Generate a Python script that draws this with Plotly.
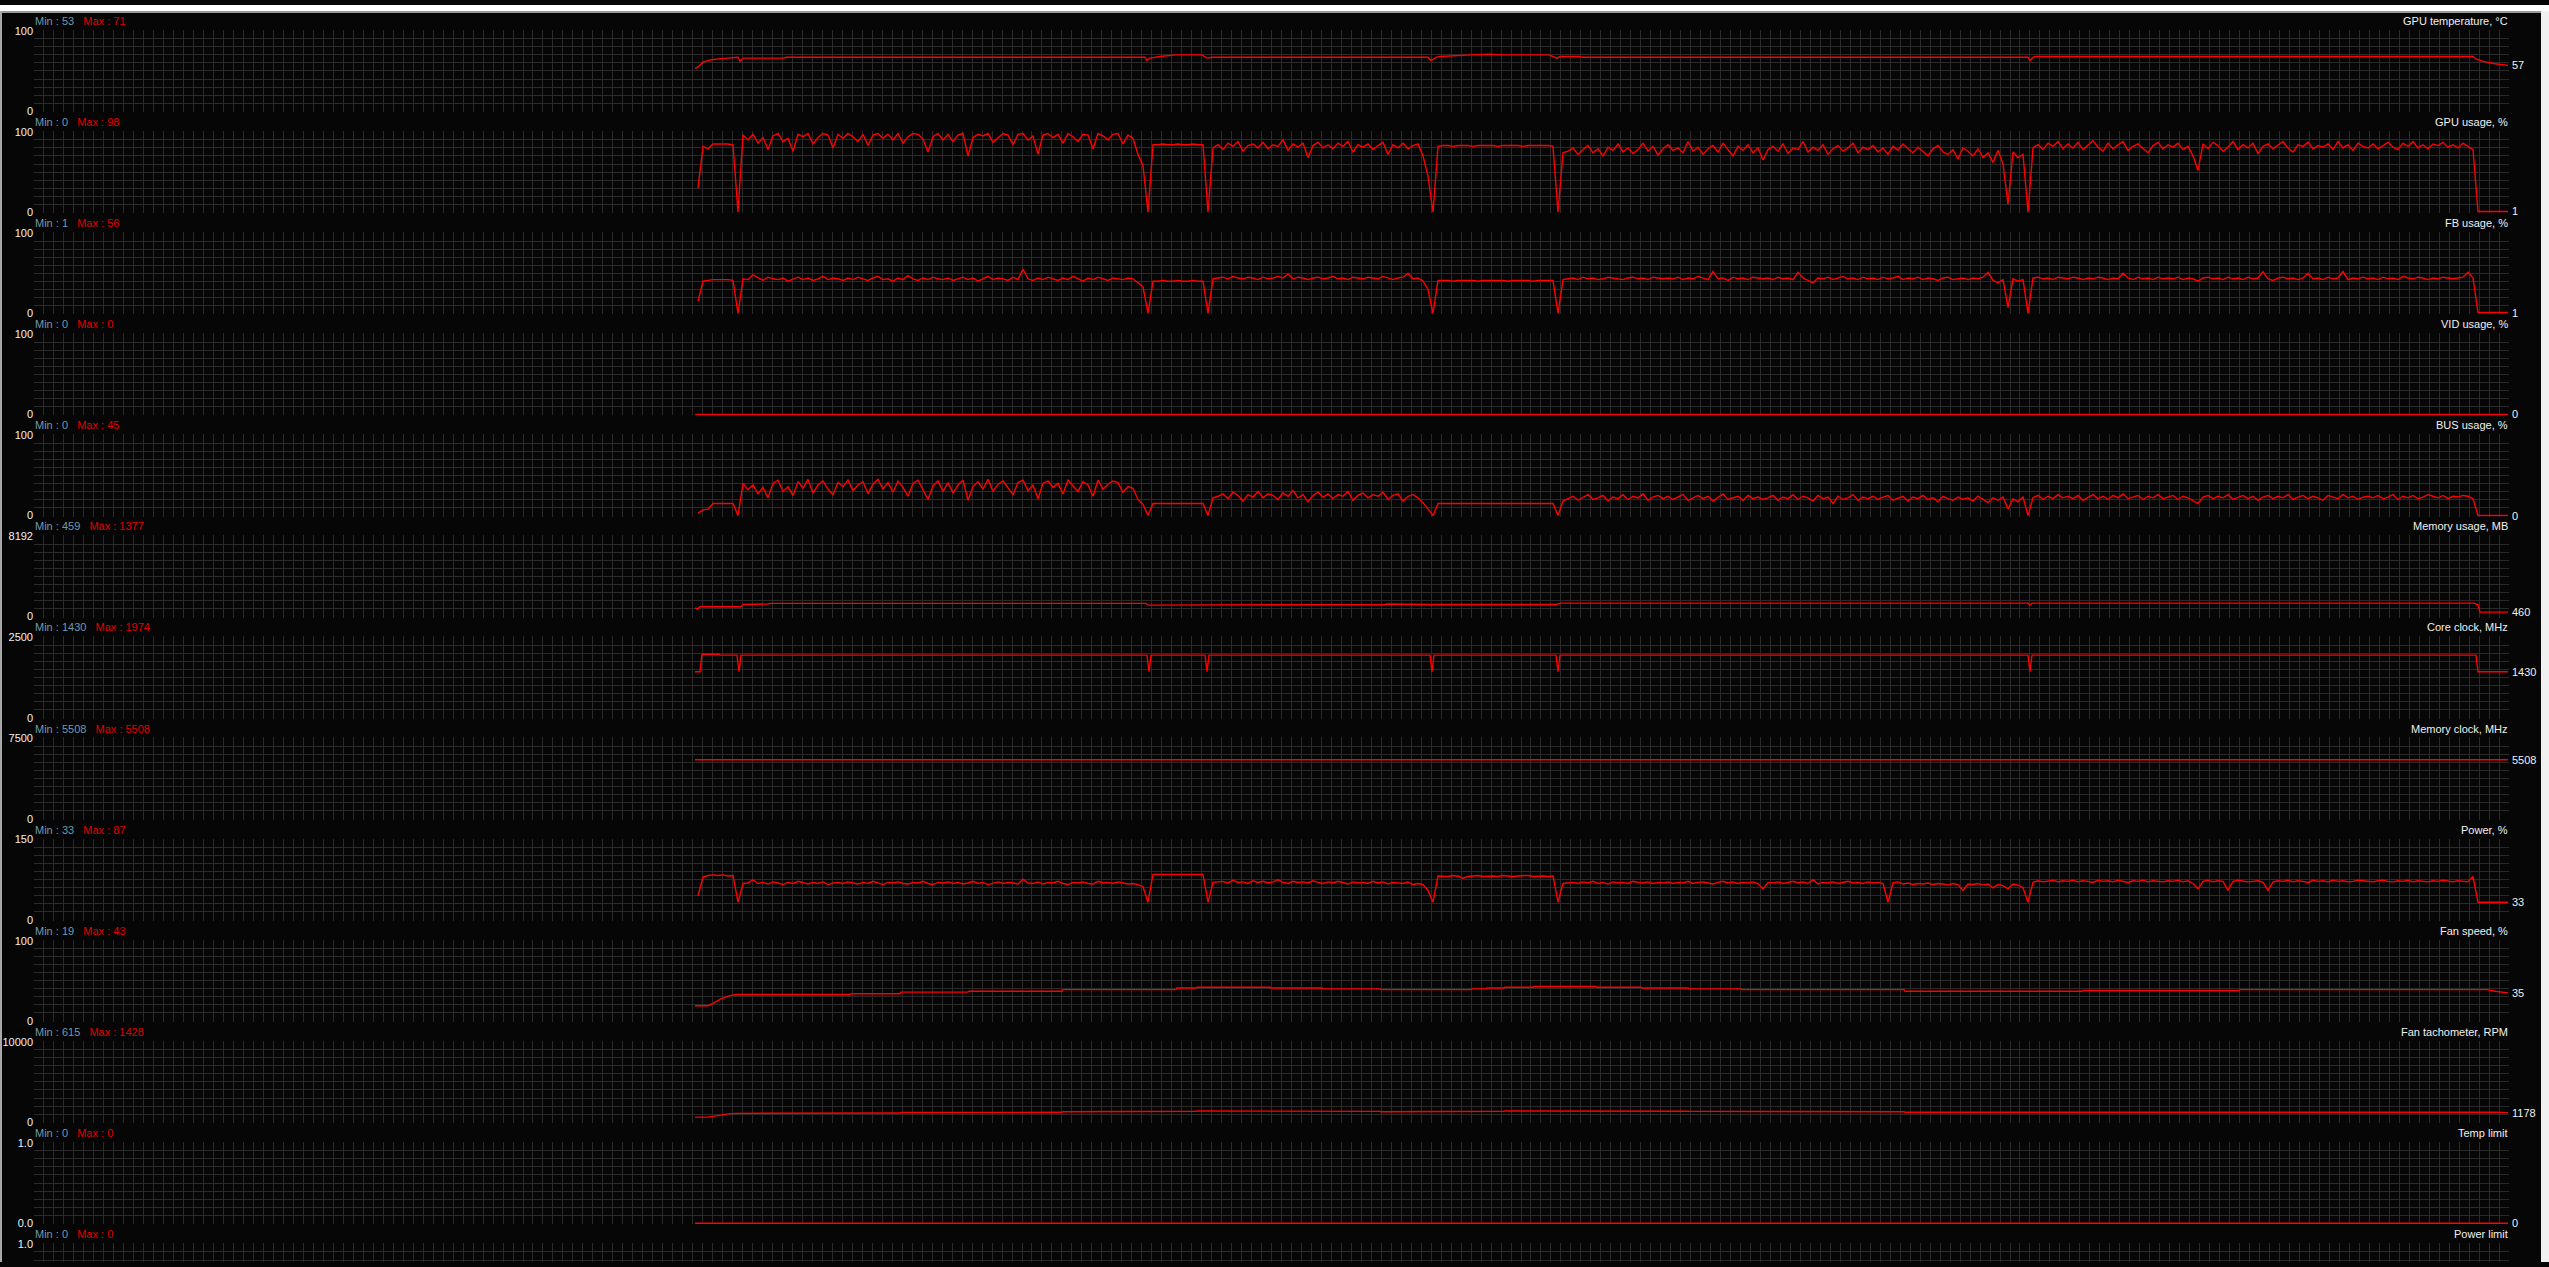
import plotly.graph_objects as go

# ---------------- data ----------------
titles = ["GPU temperature, °C", "GPU usage, %", "FB usage, %", "VID usage, %", "BUS usage, %",
          "Memory usage, MB", "Core clock, MHz", "Memory clock, MHz", "Power, %", "Fan speed, %",
          "Fan tachometer, RPM", "Temp limit", "Power limit"]
min_labels = ["53", "0", "1", "0", "0", "459", "1430", "5508", "33", "19", "615", "0", "0"]
max_labels = ["71", "98", "56", "0", "45", "1377", "1974", "5508", "87", "43", "1428", "0", "0"]
y_max = [100, 100, 100, 100, 100, 8192, 2500, 7500, 150, 100, 10000, 1.0, 1.0]
y_top_text = ["100", "100", "100", "100", "100", "8192", "2500", "7500", "150", "100", "10000", "1.0", "1.0"]
y_bot_text = ["0", "0", "0", "0", "0", "0", "0", "0", "0", "0", "0", "0.0", "0.0"]

# sample times (s) of the densely logged series
t_noisy = list(range(664, 2475, 5))

gpu_usage = [
    30, 82, 79, 85, 85, 85, 85, 84, 0, 96,
    90, 97, 86, 93, 78, 95, 98, 88, 92, 76, 97, 94, 98, 85, 93, 98, 96, 80, 97, 92,
    98, 94, 88, 97, 83, 96, 98, 92, 97, 90, 98, 86, 94, 98, 97, 91, 75, 94, 98, 90,
    97, 88, 96, 98, 70, 93, 97, 95, 98, 87, 92, 98, 96, 84, 97, 98, 90, 95, 72, 96,
    98, 93, 97, 86, 98, 94, 88, 97, 96, 79, 98, 95, 90, 97, 98, 85, 96, 92,
    72, 58, 0, 84,
    84, 85, 84, 84, 85, 84, 84, 85, 84, 84,
    0, 80,
    84, 78, 86, 82, 88, 76, 83, 85, 80, 87, 79, 84, 82, 90, 77, 85, 81, 86, 68, 83,
    87, 80, 84, 79, 86, 82, 88, 75, 84, 81, 85, 78, 83, 87, 72, 84, 80, 86, 79, 83, 85,
    70, 45, 0, 82,
    83, 83, 82, 83, 83, 83, 82, 83, 83, 83, 83, 82, 83, 83, 83, 83, 82, 83, 83, 83, 83, 83, 82,
    0, 74,
    76, 80, 72, 78, 83, 74, 79, 70, 81, 77, 85, 75, 80, 73, 78, 86, 76, 82, 71, 79,
    84, 77, 80, 74, 88, 76, 81, 72, 79, 83, 75, 86, 78, 70, 82, 77, 84, 74, 80, 65,
    78, 82, 76, 85, 73, 80, 78, 88, 75, 81, 77, 84, 72, 79, 83, 76, 80, 86, 74, 81,
    78, 83, 75, 80, 72, 82, 77, 85, 79, 74, 81, 76, 70, 79, 83, 75, 72, 78, 66, 80,
    76, 70, 79, 68, 74, 62, 77, 60, 10, 75, 68, 72, 0, 80, 84, 78, 86, 82, 88, 79,
    85, 80, 87, 78, 83, 89, 81, 76, 86, 79, 84, 88, 77, 82, 85, 80, 74, 83, 87, 79,
    84, 81, 86, 78, 82, 70, 52, 85, 79, 87, 83, 76, 81, 88, 78, 84, 80, 86, 73, 82,
    85, 79, 83, 88, 80, 75, 84, 82, 87, 79, 83, 81, 85, 78, 88, 80, 84, 77, 86, 82,
    80, 85, 79, 83, 87, 81, 78, 86, 82, 88, 80, 84, 79, 85, 83, 87, 81, 84, 80, 86,
    82, 78,
    1, 1, 1, 1, 1, 1, 1,
]

fb_usage = [
    15, 40, 41, 42, 42, 42, 42, 41, 0, 43,
    42, 48, 44, 41, 45, 43, 42, 44, 40, 43, 45, 42, 44, 41, 43, 46, 42, 44, 43, 41,
    44, 42, 45, 43, 41, 44, 46, 42, 43, 40, 44, 42, 47, 43, 41, 44, 42, 45, 43, 42,
    44, 41, 43, 45, 42, 44, 40, 43, 46, 42, 44, 43, 41, 45, 42, 55, 43, 41, 44, 42,
    45, 43, 41, 44, 42, 46, 43, 40, 44, 42, 45, 43, 41, 44, 43, 42, 44, 43,
    38, 33, 0, 40,
    40, 41, 40, 40, 41, 40, 40, 41, 40, 40,
    0, 43,
    44, 45, 43, 46, 44, 43, 45, 44, 42, 45, 43, 44, 46, 44, 49, 43, 45, 44, 42, 44,
    45, 43, 44, 46, 43, 44, 42, 45, 44, 43, 45, 44, 43, 46, 44, 42, 44, 45, 50, 43, 44,
    40, 30, 0, 41,
    41, 41, 40, 41, 41, 41, 41, 40, 41, 41, 41, 41, 41, 40, 41, 41, 41, 41, 40, 41, 41, 41, 41,
    0, 42,
    43, 44, 42, 45, 43, 44, 42, 43, 45, 44, 43, 42, 44, 45, 43, 44, 42, 45, 44, 43,
    44, 43, 45, 42, 44, 43, 46, 44, 42, 52, 43, 44, 41, 45, 43, 44, 42, 45, 44, 43,
    44, 42, 45, 43, 44, 42, 51, 44, 41, 38, 44, 43, 45, 42, 44, 46, 43, 44, 42, 45,
    43, 44, 42, 45, 43, 44, 46, 42, 44, 43, 45, 42, 44, 43, 41, 44, 45, 42, 43, 44,
    42, 44, 43, 45, 51, 41, 38, 42, 7, 43, 40, 42, 0, 44, 45, 43, 44, 42, 45, 44,
    43, 45, 44, 42, 44, 43, 45, 44, 42, 44, 43, 50, 44, 42, 45, 43, 44, 42, 45, 43,
    44, 43, 45, 42, 44, 43, 40, 44, 45, 43, 44, 42, 45, 43, 44, 42, 45, 43, 44, 52,
    43, 41, 44, 45, 43, 44, 42, 44, 50, 43, 44, 42, 45, 43, 44, 52, 42, 44, 43, 45,
    43, 44, 42, 45, 43, 44, 42, 46, 44, 43, 45, 44, 42, 44, 43, 45, 44, 43, 44, 45,
    51, 44,
    1, 1, 1, 1, 1, 1, 1,
]

bus_usage = [
    3, 7, 8, 15, 15, 15, 15, 15, 0, 40,
    32, 38, 27, 35, 22, 40, 44, 30, 36, 25, 42, 34, 45, 28, 38, 43, 33, 26, 41, 36,
    44, 31, 38, 42, 27, 39, 45, 33, 41, 29, 43, 35, 24, 40, 44, 32, 20, 37, 43, 30,
    41, 28, 38, 44, 19, 36, 42, 33, 45, 30, 39, 43, 35, 26, 41, 44, 31, 38, 21, 40,
    43, 35, 40, 27, 44, 37, 30, 42, 38, 24, 44, 33, 39, 43, 41, 29, 36, 34,
    20, 14, 0, 15,
    15, 15, 15, 15, 15, 15, 15, 15, 15, 15,
    0, 22,
    24, 27, 21, 29, 25, 18, 26, 23, 30, 22, 27, 25, 20, 28, 24, 31, 22, 26, 17, 25,
    29, 23, 27, 21, 26, 24, 30, 19, 25, 28, 22, 26, 24, 29, 20, 25, 27, 18, 24, 26, 22,
    16, 8, 0, 15,
    15, 15, 15, 15, 15, 15, 15, 15, 15, 15, 15, 15, 15, 15, 15, 15, 15, 15, 15, 15, 15, 15, 15,
    0, 18,
    21, 24, 19, 23, 26, 20, 22, 25, 18, 23, 21, 26, 20, 24, 22, 27, 19, 23, 25, 21,
    24, 20, 23, 26, 19, 22, 25, 21, 24, 18, 23, 27, 20, 22, 24, 19, 25, 21, 23, 20,
    22, 25, 19, 23, 21, 26, 20, 24, 22, 18, 25, 21, 23, 15, 24, 20, 22, 26, 19, 23,
    21, 24, 20, 23, 25, 19, 22, 24, 18, 23, 21, 25, 20, 22, 17, 24, 21, 19, 23, 20,
    22, 18, 24, 20, 16, 22, 19, 23, 8, 21, 17, 23, 0, 22, 25, 20, 24, 21, 26, 22,
    24, 21, 25, 19, 23, 26, 21, 24, 20, 25, 22, 27, 21, 23, 25, 20, 24, 22, 26, 21,
    23, 25, 20, 24, 22, 19, 15, 23, 25, 21, 24, 22, 26, 20, 23, 25, 21, 24, 19, 23,
    25, 21, 24, 22, 26, 20, 23, 25, 21, 24, 22, 19, 25, 23, 21, 26, 22, 24, 20, 23,
    24, 22, 25, 21, 23, 26, 20, 24, 22, 25, 21, 23, 26, 24, 22, 25, 21, 24, 23, 25,
    24, 21,
    0, 0, 0, 0, 0, 0, 0,
]

power = [
    45, 80, 83, 84, 83, 84, 82, 83, 33, 68,
    69, 75, 68, 70, 67, 71, 69, 66, 70, 68, 72, 69, 67, 70, 68, 71, 66, 69, 70, 68,
    71, 69, 67, 70, 68, 72, 69, 66, 70, 69, 71, 68, 67, 70, 69, 72, 68, 66, 70, 69,
    71, 68, 70, 67, 69, 72, 68, 70, 66, 69, 71, 68, 70, 69, 67, 76, 69, 68, 71, 67,
    70, 69, 72, 68, 66, 70, 69, 71, 68, 67, 72, 69, 70, 68, 71, 69, 67, 68,
    66, 62, 33, 85,
    85, 84, 85, 84, 85, 85, 84, 85, 84, 85,
    33, 70,
    71, 72, 69, 74, 70, 71, 68, 73, 70, 72, 69, 71, 75, 70, 68, 72, 70, 71, 69, 73,
    70, 68, 71, 69, 72, 70, 67, 71, 69, 70, 68, 72, 69, 71, 67, 70, 69, 68, 71, 66, 68,
    66, 55, 33, 82,
    82, 81, 83, 82, 78, 81, 82, 83, 81, 82, 82, 81, 83, 82, 81, 82, 82, 83, 81, 82, 82, 81, 82,
    33, 68,
    69, 70, 68, 71, 69, 72, 68, 70, 67, 71, 69, 70, 68, 72, 70, 69, 71, 68, 70, 69,
    71, 68, 70, 69, 72, 68, 70, 71, 69, 67, 70, 72, 69, 71, 68, 70, 69, 71, 68, 58,
    70, 69, 71, 68, 70, 72, 69, 71, 68, 75, 67, 70, 69, 71, 68, 70, 72, 69, 70, 68,
    71, 69, 70, 68, 33, 69, 71, 67, 69, 66, 68, 67, 69, 66, 68, 67, 65, 68, 66, 55,
    67, 66, 68, 65, 67, 60, 66, 64, 58, 67, 65, 60, 33, 70, 73, 71, 72, 74, 71, 73,
    72, 74, 71, 73, 72, 70, 74, 72, 73, 71, 74, 72, 70, 73, 72, 74, 71, 73, 72, 71,
    73, 72, 74, 71, 73, 68, 58, 72, 74, 71, 73, 72, 55, 72, 74, 73, 71, 72, 73, 70,
    55, 71, 73, 72, 74, 71, 73, 72, 70, 74, 72, 73, 71, 74, 72, 73, 71, 72, 74, 73,
    72, 71, 73, 74, 72, 71, 73, 72, 74, 71, 73, 72, 71, 73, 72, 74, 72, 71, 73, 72,
    71, 81,
    33, 33, 33, 33, 33, 33, 33,
]

temp_t = [661, 664, 669, 677, 693, 701, 704, 706, 709, 750, 752, 1111, 1113, 1116, 1126, 1142,
          1168, 1173, 1178, 1394, 1397, 1402, 1406, 1437, 1456, 1466, 1515, 1523, 1526, 1546,
          1548, 1994, 1996, 1999, 2001, 2439, 2442, 2449, 2461, 2474]
temp_v = [53, 55, 61, 64, 66, 67, 67, 62, 66, 66, 67, 67, 63, 66, 68, 70,
          70, 66, 67, 67, 63, 67, 68, 70, 71, 70, 70, 66, 68, 68,
          67, 67, 63, 67, 68, 68, 65, 62, 59, 57]

vid_t = [661, 2474]
vid_v = [0, 0]

mem_t = [661, 663, 666, 707, 709, 722, 724, 734, 736, 1112, 1114, 1175, 1177, 1351, 1353,
         1370, 1372, 1396, 1397, 1399, 1522, 1527, 1994, 1996, 1998, 2440, 2444, 2446, 2474]
mem_v = [900, 770, 1000, 1000, 1237, 1237, 1290, 1290, 1350, 1350, 1170, 1170, 1237, 1237, 1290,
         1290, 1237, 1237, 1170, 1237, 1237, 1377, 1377, 1190, 1377, 1377, 1200, 460, 460]

core_t = [661, 666, 668, 685, 686, 703, 705, 707, 1113, 1115, 1117, 1171, 1173, 1175, 1396, 1398,
          1400, 1522, 1524, 1526, 1994, 1996, 1998, 2442, 2444, 2474]
core_v = [1430, 1430, 1974, 1974, 1949, 1949, 1430, 1949, 1949, 1430, 1949, 1949, 1430, 1949, 1949, 1430,
          1949, 1949, 1430, 1949, 1949, 1430, 1949, 1949, 1430, 1430]

mclk_t = [661, 2474]
mclk_v = [5508, 5508]

fan_t = [661, 674, 679, 686, 694, 702, 816, 817, 866, 867, 934, 935, 1028, 1029, 1142, 1143,
         1162, 1163, 1236, 1237, 1288, 1289, 1346, 1347, 1437, 1438, 1452, 1453, 1470, 1471,
         1499, 1500, 1562, 1563, 1607, 1608, 1654, 1655, 1707, 1708, 1870, 1871, 2048, 2049,
         2205, 2206, 2453, 2461, 2474]
fan_v = [19, 19, 22, 27, 31, 33, 33, 34, 34, 36, 36, 37, 37, 39, 39, 41,
         41, 42, 42, 41, 41, 40, 40, 39, 39, 40, 40, 41, 41, 42,
         42, 43, 43, 42, 42, 41, 41, 40, 40, 39, 39, 37, 37, 38,
         38, 39, 39, 37, 35]
tach_v = [615, 615, 720, 890, 1020, 1090, 1090, 1125, 1125, 1190, 1190, 1225, 1225, 1295, 1295, 1360,
          1360, 1395, 1395, 1360, 1360, 1330, 1330, 1295, 1295, 1330, 1330, 1360, 1360, 1395,
          1395, 1428, 1428, 1395, 1395, 1360, 1360, 1330, 1330, 1295, 1295, 1225, 1225, 1260,
          1260, 1295, 1295, 1225, 1178]

tlim_t = [661, 2474]
tlim_v = [0, 0]
plim_t = [661, 2474]
plim_v = [0, 0]

series = [(temp_t, temp_v), (t_noisy, gpu_usage), (t_noisy, fb_usage), (vid_t, vid_v),
          (t_noisy, bus_usage), (mem_t, mem_v), (core_t, core_v), (mclk_t, mclk_v),
          (t_noisy, power), (fan_t, fan_v), (fan_t, tach_v), (tlim_t, tlim_v), (plim_t, plim_v)]

# ---------------- layout constants ----------------
W, H = 2549, 1267
PLOT_L, PLOT_R = 34, 2509
TOP0, PITCH, PANEL_H = 26, 101.9, 81
X_SPAN = 2475
X_DIV = 248
BG = "#060606"
GRID = "#2a2a2a"
RED = "#ff0000"
FONT = "Liberation Sans, Arial, sans-serif"

fig = go.Figure()
layout = dict(width=W, height=H, margin=dict(l=0, r=0, t=0, b=0),
              paper_bgcolor=BG, plot_bgcolor=BG, showlegend=False,
              font=dict(family=FONT, size=11, color="#e6e6e6"))
annotations = []

for k in range(13):
    top = TOP0 + PITCH * k
    bot = top + PANEL_H
    ymax = y_max[k]
    upp = ymax / PANEL_H
    dom_top = top - 1
    dom_bot = min(bot + 1, H)
    r_top = ymax + (top - dom_top) * upp
    r_bot = ymax - (dom_bot - top) * upp
    sfx = "" if k == 0 else str(k + 1)
    tickvals = [ymax * j / 10 for j in range(11)]
    ticktext = [y_bot_text[k]] + [""] * 9 + [y_top_text[k]]

    layout["xaxis" + sfx] = dict(domain=[PLOT_L / W, PLOT_R / W], range=[0, X_SPAN],
                                 anchor="y" + sfx, tick0=0, dtick=X_SPAN / X_DIV,
                                 showgrid=True, gridcolor=GRID, gridwidth=1,
                                 showticklabels=False, zeroline=False, ticks="",
                                 showline=False, fixedrange=True)
    layout["yaxis" + sfx] = dict(domain=[1 - dom_bot / H, 1 - dom_top / H], range=[r_bot, r_top],
                                 anchor="x" + sfx, tickmode="array", tickvals=tickvals,
                                 ticktext=ticktext, showgrid=True, gridcolor=GRID, gridwidth=1,
                                 zeroline=False, ticks="", showline=False, fixedrange=True,
                                 tickfont=dict(family=FONT, size=11, color="#f0f0f0"))

    tx, ty = series[k]
    fig.add_trace(go.Scatter(x=tx, y=ty, mode="lines", xaxis="x" + sfx, yaxis="y" + sfx,
                             line=dict(color=RED, width=1.4), hoverinfo="skip"))

    head_y = 1 - (top - 10) / H
    annotations.append(dict(
        xref="paper", yref="paper", x=PLOT_L / W, y=head_y, xanchor="left", yanchor="middle",
        showarrow=False, borderpad=0,
        text=(f"<span style='color:#6f9ab0'>Min : {min_labels[k]}</span>&nbsp;&nbsp;&nbsp;"
              f"<span style='color:#e00000'>Max : {max_labels[k]}</span>"),
        font=dict(family=FONT, size=11)))
    annotations.append(dict(
        xref="paper", yref="paper", x=PLOT_R / W, y=head_y, xanchor="right", yanchor="middle",
        showarrow=False, borderpad=0, text=titles[k],
        font=dict(family=FONT, size=11, color="#f0f0f0")))
    last = ty[-1]
    if 1 - (top + (ymax - last) / upp) / H > 0.005:
        annotations.append(dict(
            xref="paper", yref="y" + sfx, x=(PLOT_R + 2) / W, y=last, xanchor="left",
            yanchor="middle", showarrow=False, borderpad=0, text=str(last),
            font=dict(family=FONT, size=11, color="#f0f0f0")))

layout["annotations"] = annotations
layout["shapes"] = [
    dict(type="rect", xref="paper", yref="paper", x0=0, x1=1, y0=1 - 6 / H, y1=1,
         fillcolor="#ffffff", line=dict(width=0), layer="above"),
    dict(type="rect", xref="paper", yref="paper", x0=0, x1=1, y0=1 - 8 / H, y1=1 - 6 / H,
         fillcolor="#9a9a9a", line=dict(width=0), layer="above"),
    dict(type="rect", xref="paper", yref="paper", x0=0, x1=2 / W, y0=0, y1=1 - 6 / H,
         fillcolor="#a8a8a8", line=dict(width=0), layer="above"),
    dict(type="rect", xref="paper", yref="paper", x0=2541 / W, x1=1, y0=0, y1=1 - 6 / H,
         fillcolor="#f0f0f0", line=dict(width=0), layer="above"),
]
fig.update_layout(**layout)
fig.write_html("out.html", config={"displayModeBar": False},
               post_script="document.body.style.margin='0px';document.body.style.overflow='hidden';")
